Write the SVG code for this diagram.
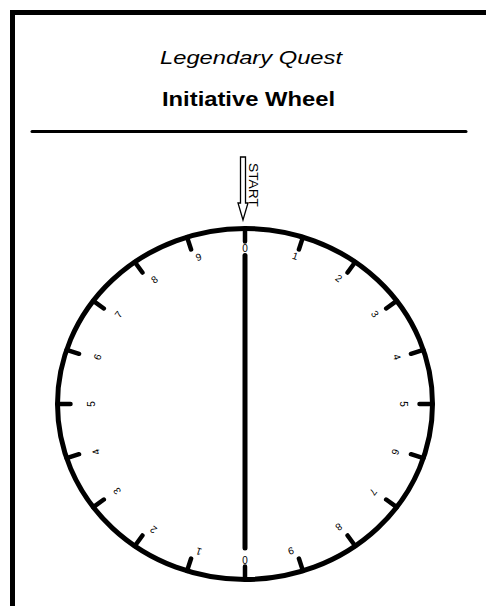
<svg xmlns="http://www.w3.org/2000/svg" width="486" height="606" viewBox="0 0 486 606">
<style>
text{font-family:"Liberation Sans",Arial,sans-serif;fill:#000}
.lbl{font-size:10px;text-anchor:middle;dominant-baseline:central}
.tick{stroke:#000;stroke-width:4.5;stroke-linecap:round;fill:none}
</style>
<rect x="0" y="0" width="486" height="606" fill="#fff"/>
<g id="frame">
<rect x="12.5" y="12.5" width="520" height="660" fill="none" stroke="#000" stroke-width="5"/>
<line x1="32" y1="131.5" x2="466" y2="131.5" stroke="#000" stroke-width="3" stroke-linecap="round"/>
</g>
<g id="title">
<text x="251" y="64" font-size="19" font-style="italic" text-anchor="middle" textLength="182" lengthAdjust="spacingAndGlyphs">Legendary Quest</text>
<text x="248.5" y="106" font-size="21" font-weight="bold" text-anchor="middle" textLength="173" lengthAdjust="spacingAndGlyphs">Initiative Wheel</text>
</g>
<g id="start">
<polygon points="240.5,157 245.5,157 245.5,203 248,203 243,220 238,203 240.5,203" fill="#fff" stroke="#000" stroke-width="1.3" stroke-linejoin="miter"/>
<text transform="translate(248.5,163) rotate(90)" font-size="12.5" textLength="44" lengthAdjust="spacingAndGlyphs">START</text>
</g>
<g id="wheel">
<ellipse cx="245" cy="404" rx="187.5" ry="175.5" fill="none" stroke="#000" stroke-width="5"/>
<path class="tick" d="M245,228.5L245,241.5M302.94,237.08L298.92,249.45M355.21,262.02L347.57,272.54M396.69,300.84L386.17,308.48M423.33,349.77L410.97,353.79M432.5,404L419.5,404M423.33,458.23L410.97,454.21M396.69,507.16L386.17,499.52M355.21,545.98L347.57,535.46M302.94,570.92L298.92,558.55M245,579.5L245,566.5M187.06,570.92L191.08,558.55M134.79,545.98L142.43,535.46M93.31,507.16L103.83,499.52M66.67,458.23L79.03,454.21M57.5,404L70.5,404M66.67,349.77L79.03,353.79M93.31,300.84L103.83,308.48M134.79,262.02L142.43,272.54M187.06,237.08L191.08,249.45"/>
</g>
<g id="labels">
<text class="lbl" x="245" y="248" transform="rotate(0 245 248)">0</text>
<text class="lbl" x="295.2" y="256.1" transform="rotate(18 295.2 256.1)">1</text>
<text class="lbl" x="338.7" y="278.2" transform="rotate(36 338.7 278.2)">2</text>
<text class="lbl" x="375" y="314" transform="rotate(54 375 314)">3</text>
<text class="lbl" x="397" y="357" transform="rotate(72 397 357)">4</text>
<text class="lbl" x="403" y="404" transform="rotate(90 403 404)">5</text>
<text class="lbl" x="395.4" y="452" transform="rotate(108 395.4 452)">6</text>
<text class="lbl" x="373.2" y="492" transform="rotate(126 373.2 492)">7</text>
<text class="lbl" x="338.7" y="527" transform="rotate(144 338.7 527)">8</text>
<text class="lbl" x="291" y="551" transform="rotate(162 291 551)">9</text>
<text class="lbl" x="245" y="559.5" transform="rotate(180 245 559.5)">0</text>
<text class="lbl" x="198.8" y="551.5" transform="rotate(198 198.8 551.5)">1</text>
<text class="lbl" x="153.5" y="529.8" transform="rotate(216 153.5 529.8)">2</text>
<text class="lbl" x="117" y="491" transform="rotate(234 117 491)">3</text>
<text class="lbl" x="96" y="452" transform="rotate(252 96 452)">4</text>
<text class="lbl" x="91.5" y="404" transform="rotate(270 91.5 404)">5</text>
<text class="lbl" x="97.5" y="357" transform="rotate(288 97.5 357)">6</text>
<text class="lbl" x="118.5" y="314.5" transform="rotate(306 118.5 314.5)">7</text>
<text class="lbl" x="154.5" y="279.5" transform="rotate(324 154.5 279.5)">8</text>
<text class="lbl" x="198.5" y="257" transform="rotate(342 198.5 257)">9</text>
</g>
<g id="connectors">
<line x1="245" y1="255.5" x2="245" y2="548" stroke="#000" stroke-width="5" stroke-linecap="round"/>
</g>
</svg>
